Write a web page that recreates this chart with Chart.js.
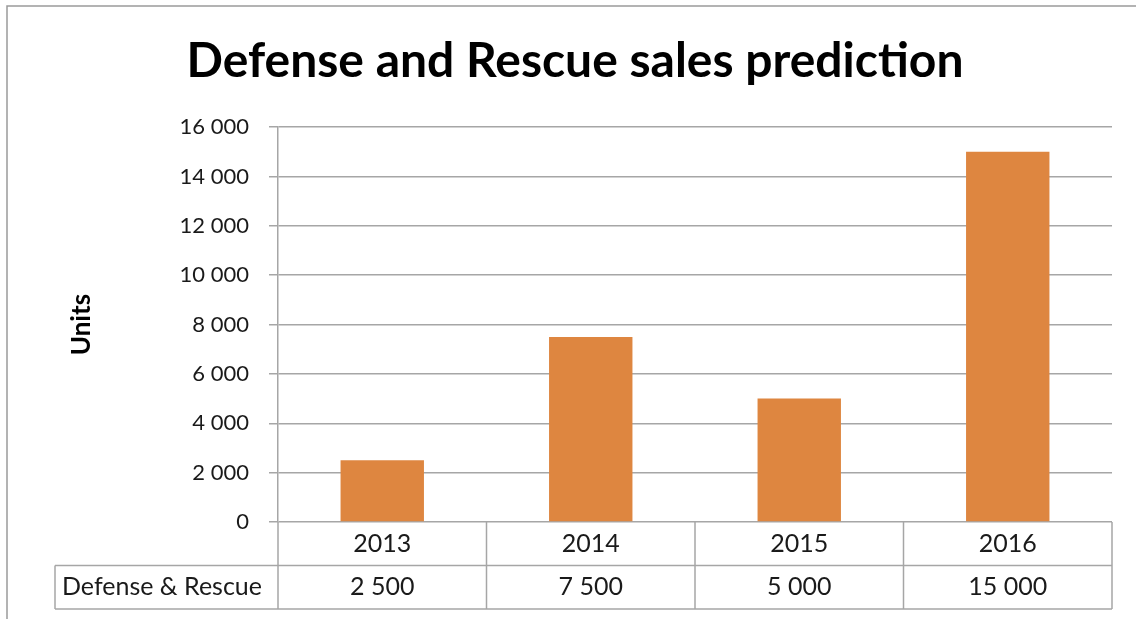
<!DOCTYPE html>
<html>
<head>
<meta charset="utf-8">
<script src="https://cdn.jsdelivr.net/npm/chart.js@4.4.0/dist/chart.umd.min.js"></script>
<style>
  body { margin: 0; background: #fff; }
  canvas { display: block; }
</style>
</head>
<body>
<canvas id="salesChart" width="1136" height="619"></canvas>
<script>
const years = ["2013", "2014", "2015", "2016"];
const seriesName = "Defense & Rescue";
const units = [2500, 7500, 5000, 15000];
const yMax = 16000;
const yStep = 2000;

const barColor = "#DE8640";
const lineColor = "#A6A6A6";
const fontName = "Lato, 'Open Sans', sans-serif";

// 15000 -> "15 000"
function fmt(v) {
  return String(v).replace(/\B(?=(\d{3})+(?!\d))/g, " ");
}

// draws the frame and the data table under the plot, using the x scale
const tablePlugin = {
  id: "dataTable",
  afterDraw(chart) {
    const ctx = chart.ctx;
    const x = chart.scales.x;
    const area = chart.chartArea;
    const rowH = 43.5;
    const top = area.bottom;
    const mid = top + rowH;
    const bot = mid + rowH;
    const headLeft = 55;
    const step = (x.right - x.left) / years.length;

    ctx.save();
    // outer frame
    ctx.strokeStyle = "#9A9A9A";
    ctx.lineWidth = 1.5;
    ctx.beginPath();
    ctx.moveTo(7, 619);
    ctx.lineTo(7, 6);
    ctx.lineTo(1136, 6);
    ctx.stroke();

    ctx.strokeStyle = lineColor;
    ctx.lineWidth = 1.5;
    ctx.beginPath();
    // horizontal lines
    ctx.moveTo(headLeft, mid); ctx.lineTo(x.right, mid);
    ctx.moveTo(headLeft, bot); ctx.lineTo(x.right, bot);
    // header box left side
    ctx.moveTo(headLeft, mid); ctx.lineTo(headLeft, bot);
    // vertical separators
    for (let i = 0; i <= years.length; i++) {
      const px = x.left + i * step;
      ctx.moveTo(px, top); ctx.lineTo(px, bot);
    }
    ctx.stroke();

    ctx.fillStyle = "#1a1a1a";
    ctx.font = "25px " + fontName;
    ctx.textBaseline = "middle";
    ctx.textAlign = "center";
    years.forEach((y, i) => {
      const cx = x.getPixelForValue(i);
      ctx.fillText(y, cx, (top + mid) / 2);
      ctx.fillText(fmt(units[i]), cx, (mid + bot) / 2);
    });
    ctx.textAlign = "left";
    ctx.fillText(seriesName, headLeft + 7, (mid + bot) / 2);
    ctx.restore();
  }
};

const ctx = document.getElementById("salesChart").getContext("2d");
const myChart = new Chart(ctx, {
  type: "bar",
  data: {
    labels: years,
    datasets: [{
      label: seriesName,
      data: units,
      backgroundColor: barColor,
      categoryPercentage: 1,
      barPercentage: 0.4,
    }],
  },
  options: {
    responsive: false,
    animation: false,
    layout: { padding: { left: 38, right: 24, bottom: 97, top: 0 } },
    plugins: {
      legend: { display: false },
      tooltip: { enabled: false },
      title: {
        display: true,
        text: "Defense and Rescue sales prediction",
        color: "#000",
        font: { family: fontName, size: 48, weight: "bold" },
        padding: { top: 33, bottom: 36.5 },
      },
    },
    scales: {
      x: { display: false },
      y: {
        min: 0,
        max: yMax,
        afterFit(scale) { scale.width = 240; },
        ticks: {
          stepSize: yStep,
          padding: 20,
          color: "#1a1a1a",
          font: { family: fontName, size: 22 },
          callback: (v) => fmt(v),
        },
        grid: { color: lineColor, lineWidth: 1.5, tickLength: 9 },
        border: { display: true, color: lineColor, width: 1.5 },
        title: {
          display: true,
          text: "Units",
          color: "#000",
          padding: { top: 28, bottom: 4 },
          font: { family: fontName, size: 26, weight: "bold" },
        },
      },
    },
  },
  plugins: [tablePlugin],
});
</script>
</body>
</html>
